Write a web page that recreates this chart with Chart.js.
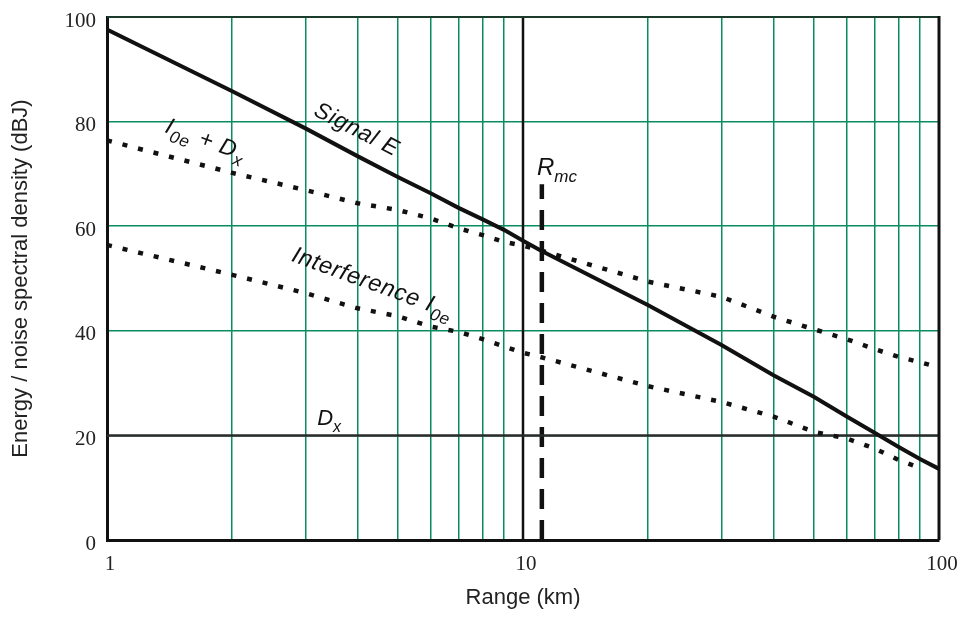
<!DOCTYPE html>
<html>
<head>
<meta charset="utf-8">
<script src="https://cdn.jsdelivr.net/npm/chart.js@4.4.1/dist/chart.umd.min.js"></script>
<style>
  body { margin: 0; background: #fff; }
  #wrap { width: 970px; height: 618px; }
</style>
</head>
<body>
<div id="wrap"><canvas id="grafico"></canvas></div>
<script>
// Valores
const rangeKm = [1, 2, 3, 4, 5, 6, 7, 8, 9, 10, 11, 20, 30, 40, 50, 60, 70, 80, 90, 100];
const signalE = [97.6, 85.8, 78.7, 73.4, 69.4, 66.3, 63.5, 61.3, 59.3, 57.2, 55.4, 44.9, 37.3, 31.5, 27.4, 23.6, 20.5, 17.8, 15.5, 13.6];
const interfPlusDx = [76.4, 70.2, 66.9, 64.4, 63.1, 61.5, 59.6, 58.3, 57.0, 56.3, 55.4, 49.4, 46.5, 42.7, 40.3, 38.4, 36.5, 35.0, 34.0, 33.0];
const interference = [56.4, 50.7, 47.2, 44.3, 42.8, 40.8, 39.8, 38.4, 37.0, 35.8, 35.0, 29.4, 26.4, 23.6, 20.7, 19.4, 17.5, 15.3, 13.8, null];
const dxLevel = 20;
const rmcRange = 11.1;
const rmcTop = 68;
const xGridValues = [1, 2, 3, 4, 5, 6, 7, 8, 9, 10, 20, 30, 40, 50, 60, 70, 80, 90, 100];
const xTickLabels = [1, 10, 100];
const yTicks = [0, 20, 40, 60, 80, 100];

// Rótulos do gráfico (posição em unidades dos dados)
const anotacoes = [
    { parts: [['Signal E', 0]], x: 3.12, y: 81.3, angle: 27, size: 23 },
    { parts: [['I', 0], ['0e', 1], [' + D', 0], ['x', 1]], x: 1.37, y: 78.0, angle: 20, size: 23 },
    { parts: [['Interference I', 0], ['0e', 1]], x: 2.76, y: 53.4, angle: 20, size: 23.5 },
    { parts: [['R', 0], ['mc', 1]], x: 10.8, y: 69.8, angle: 0, size: 24 },
    { parts: [['D', 0], ['x', 1]], x: 3.2, y: 22.0, angle: 0, size: 22 }
];

const pts = (ys) => rangeKm.map((x, i) => ({ x: x, y: ys[i] }));
const verde = '#0a8c60';

const frame = {
    id: 'frame',
    afterDatasetsDraw(chart) {
        const { ctx, chartArea: a } = chart;
        ctx.save();
        ctx.strokeStyle = '#1b3b2c';
        ctx.lineWidth = 2;
        ctx.beginPath();
        ctx.moveTo(a.left, a.top);
        ctx.lineTo(a.right, a.top);
        ctx.stroke();
        ctx.strokeStyle = '#111';
        ctx.lineWidth = 3;
        ctx.beginPath();
        ctx.moveTo(a.right, a.top - 1);
        ctx.lineTo(a.right, a.bottom);
        ctx.stroke();
        ctx.restore();
    }
};

const rotulos = {
    id: 'rotulos',
    afterDatasetsDraw(chart) {
        const ctx = chart.ctx;
        const sx = chart.scales.x, sy = chart.scales.y;
        anotacoes.forEach(item => {
            ctx.save();
            ctx.translate(sx.getPixelForValue(item.x), sy.getPixelForValue(item.y));
            ctx.rotate(item.angle * Math.PI / 180);
            ctx.fillStyle = '#111';
            ctx.textBaseline = 'alphabetic';
            ctx.letterSpacing = item.angle ? '0.8px' : '0px';
            let pos = 0;
            item.parts.forEach(([txt, sub]) => {
                const size = sub ? Math.round(item.size * 0.72) : item.size;
                ctx.font = 'italic ' + size + 'px "Liberation Sans", Arial, sans-serif';
                ctx.fillText(txt, pos, sub ? item.size * 0.3 : 0);
                pos += ctx.measureText(txt).width + (sub ? 1 : 0);
            });
            ctx.restore();
        });
    }
};

const ctx = document.getElementById('grafico').getContext('2d');
new Chart(ctx, {
    type: 'line',
    data: {
        datasets: [
            {
                label: 'Signal E',
                data: pts(signalE),
                borderColor: '#111',
                borderWidth: 4,
                pointRadius: 0,
                tension: 0
            },
            {
                label: 'I0e + Dx',
                data: pts(interfPlusDx),
                borderColor: '#111',
                borderWidth: 4.5,
                borderDash: [5, 11],
                borderCapStyle: 'butt',
                pointRadius: 0
            },
            {
                label: 'Interference I0e',
                data: pts(interference),
                borderColor: '#111',
                borderWidth: 4.5,
                borderDash: [5, 11],
                borderCapStyle: 'butt',
                pointRadius: 0
            },
            {
                label: 'Dx',
                data: [{ x: 1, y: dxLevel }, { x: 100, y: dxLevel }],
                borderColor: '#2b2b2b',
                borderWidth: 2.5,
                pointRadius: 0
            },
            {
                label: '10 km',
                data: [{ x: 10, y: 0 }, { x: 10, y: 100 }],
                borderColor: '#111',
                borderWidth: 2.5,
                pointRadius: 0
            },
            {
                label: 'Rmc',
                data: [{ x: rmcRange, y: 0 }, { x: rmcRange, y: rmcTop }],
                borderColor: '#111',
                borderWidth: 4.5,
                borderDash: [20, 11],
                borderCapStyle: 'butt',
                pointRadius: 0
            }
        ]
    },
    options: {
        responsive: true,
        maintainAspectRatio: false,
        animation: false,
        layout: { padding: { top: 17, right: 31, left: 0, bottom: 0 } },
        plugins: {
            legend: { display: false },
            tooltip: { enabled: false }
        },
        scales: {
            x: {
                type: 'logarithmic',
                min: 1,
                max: 100,
                afterFit: (scale) => {
                    scale.height = 78;
                    scale.paddingLeft = 0;
                    scale.paddingRight = 0;
                },
                afterBuildTicks: (scale) => { scale.ticks = xGridValues.map(v => ({ value: v })); },
                border: { color: '#111', width: 3 },
                grid: { color: verde, lineWidth: 1.5, drawTicks: false },
                ticks: {
                    autoSkip: false,
                    maxRotation: 0,
                    padding: 12,
                    labelOffset: 3,
                    color: '#222',
                    font: { family: '"Liberation Serif", serif', size: 21 },
                    callback: (v) => xTickLabels.includes(v) ? String(v) : ''
                },
                title: {
                    display: true,
                    text: 'Range (km)',
                    color: '#222',
                    font: { family: '"Liberation Sans", Arial, sans-serif', size: 22 },
                    padding: { top: 0, bottom: 7 }
                }
            },
            y: {
                min: 0,
                max: 100,
                afterFit: (scale) => {
                    scale.width = 107;
                    scale.paddingTop = 0;
                    scale.paddingBottom = 0;
                },
                afterBuildTicks: (scale) => { scale.ticks = yTicks.map(v => ({ value: v })); },
                border: { color: '#111', width: 3 },
                grid: { color: verde, lineWidth: 1.5, drawTicks: false },
                ticks: {
                    padding: 11,
                    labelOffset: 4,
                    color: '#222',
                    font: { family: '"Liberation Serif", serif', size: 21 }
                },
                title: {
                    display: true,
                    text: 'Energy / noise spectral density (dBJ)',
                    color: '#222',
                    font: { family: '"Liberation Sans", Arial, sans-serif', size: 22 },
                    padding: { top: 8, bottom: 0 }
                }
            }
        }
    },
    plugins: [frame, rotulos]
});
</script>
</body>
</html>
